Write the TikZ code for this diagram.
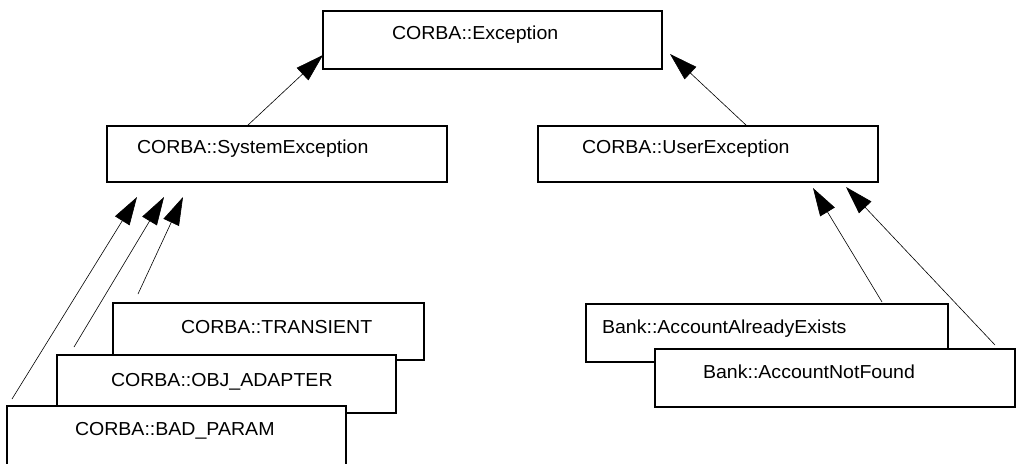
\documentclass[tikz,border=0pt]{standalone}
\usepackage{fontspec}
\setmainfont{Liberation Sans}[FakeStretch=1.04]
\usetikzlibrary{arrows.meta,calc}
\tikzset{
  cls/.style={draw, line width=1.2pt, fill=white, inner sep=0pt, outer sep=0pt,
    anchor=north west, align=left, font=\fontsize{18.8}{21}\selectfont},
  inh/.style={-{Triangle[length=28pt,width=17pt]}, line width=0.6pt}
}
\begin{document}
\begin{tikzpicture}[x=1pt,y=-1pt]
\clip (0,0) rectangle (1016,463);
\fill[white] (0,0) rectangle (1016,463);
% top levels
\node[cls, text width=339pt, text height=28pt, text depth=30pt] (exc) at (323,11) {\hspace*{69pt}CORBA::Exception};
\node[cls, text width=340pt, text height=27pt, text depth=29pt] (sys) at (107,126) {\hspace*{30pt}CORBA::SystemException};
\node[cls, text width=340pt, text height=27pt, text depth=29pt] (usr) at (538,126) {\hspace*{44pt}CORBA::UserException};
% system exceptions
\node[cls, text width=311pt, text height=30pt, text depth=27pt] (trans) at (113,303) {\hspace*{68pt}CORBA::TRANSIENT};
\node[cls, text width=339pt, text height=31pt, text depth=27pt] (obj) at (57,355) {\hspace*{54pt}CORBA::OBJ\_ADAPTER};
\node[cls, text width=339pt, text height=29pt, text depth=41pt] (bad) at (7,406) {\hspace*{68pt}CORBA::BAD\_PARAM};
% user exceptions
\node[cls, text width=362pt, text height=29pt, text depth=29pt] (exists) at (586,304) {\hspace*{16pt}Bank::AccountAlreadyExists};
\node[cls, text width=360pt, text height=29pt, text depth=29pt] (notfound) at (655,349) {\hspace*{48pt}Bank::AccountNotFound};
% inheritance arrows
\draw[inh] ($(sys.north west)+(140,0)$) -- ($(exc.north west)+(0,44)$);
\draw[inh] ($(usr.north west)+(209,0)$) -- ($(exc.north east)+(8,43)$);
\draw[inh] ($(trans.north west)+(25,-9)$) -- ($(sys.south west)+(76,15)$);
\draw[inh] ($(obj.north west)+(17,-8)$) -- ($(sys.south west)+(57,15)$);
\draw[inh] ($(bad.north west)+(5,-7)$) -- ($(sys.south west)+(30,15)$);
\draw[inh] ($(exists.north east)+(-66,-2)$) -- ($(usr.south west)+(275,6)$);
\draw[inh] ($(notfound.north east)+(-20,-4)$) -- ($(usr.south west)+(308,5)$);
\end{tikzpicture}
\end{document}
